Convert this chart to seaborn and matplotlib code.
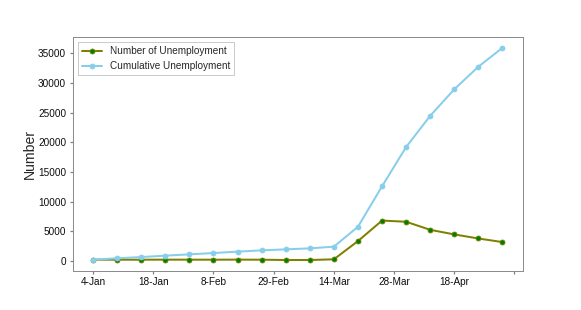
import numpy as np
import pandas as pd
import seaborn as sns
import matplotlib.pyplot as plt
from matplotlib.ticker import MultipleLocator, FuncFormatter

# Weekly data
weeks = ['4-Jan', '11-Jan', '18-Jan', '25-Jan', '1-Feb', '8-Feb', '15-Feb', '22-Feb',
         '29-Feb', '7-Mar', '14-Mar', '21-Mar', '28-Mar', '4-Apr', '11-Apr', '18-Apr',
         '25-Apr', '2-May']
number_unemp = [235, 218, 219, 228, 225, 218, 235, 219, 167, 168, 286,
                3358, 6817, 6615, 5255, 4483, 3795, 3190]
cumulative_unemp = [235, 453, 672, 900, 1125, 1343, 1578, 1797, 1964, 2132, 2418,
                    5776, 12593, 19208, 24463, 28946, 32741, 35931]

df = pd.DataFrame({'idx': np.arange(len(weeks)),
                   'week': weeks,
                   'number': number_unemp,
                   'cumulative': cumulative_unemp})

sns.set_theme(style='white')
plt.rcParams['font.family'] = ['Liberation Sans', 'DejaVu Sans']
plt.rcParams['xtick.bottom'] = True
plt.rcParams['ytick.left'] = True

fig, ax = plt.subplots(figsize=(581 / 72, 310 / 72), dpi=72)
fig.subplots_adjust(left=0.125, right=0.9, bottom=0.127, top=0.88)

sns.lineplot(data=df, x='idx', y='number', ax=ax, color='olive', linewidth=2,
             marker='o', markersize=5, markerfacecolor='green', markeredgecolor='olive',
             markeredgewidth=0.8, label='Number of Unemployment')
sns.lineplot(data=df, x='idx', y='cumulative', ax=ax, color='skyblue', linewidth=2,
             marker='o', markersize=5, markerfacecolor='skyblue', markeredgecolor='skyblue',
             label='Cumulative Unemployment')


def week_label(v, pos):
    i = int(round(v))
    if v < 0 or i >= len(weeks):
        return ''
    return weeks[i]


ax.xaxis.set_major_locator(MultipleLocator(2.5))
ax.xaxis.set_major_formatter(FuncFormatter(week_label))
ax.yaxis.set_major_locator(MultipleLocator(5000))

ax.set_xlabel('')
ax.set_ylabel('Number', fontsize=14, labelpad=1)
ax.tick_params(axis='both', labelsize=10, length=3, color='0.5', labelcolor='0.05')
for s in ax.spines.values():
    s.set_color('0.55')
    s.set_linewidth(1)

leg = ax.legend(loc='upper left', fontsize=10, frameon=True, fancybox=False,
                edgecolor='0.75', borderaxespad=0.5)

fig.savefig('out.png', dpi=72)
